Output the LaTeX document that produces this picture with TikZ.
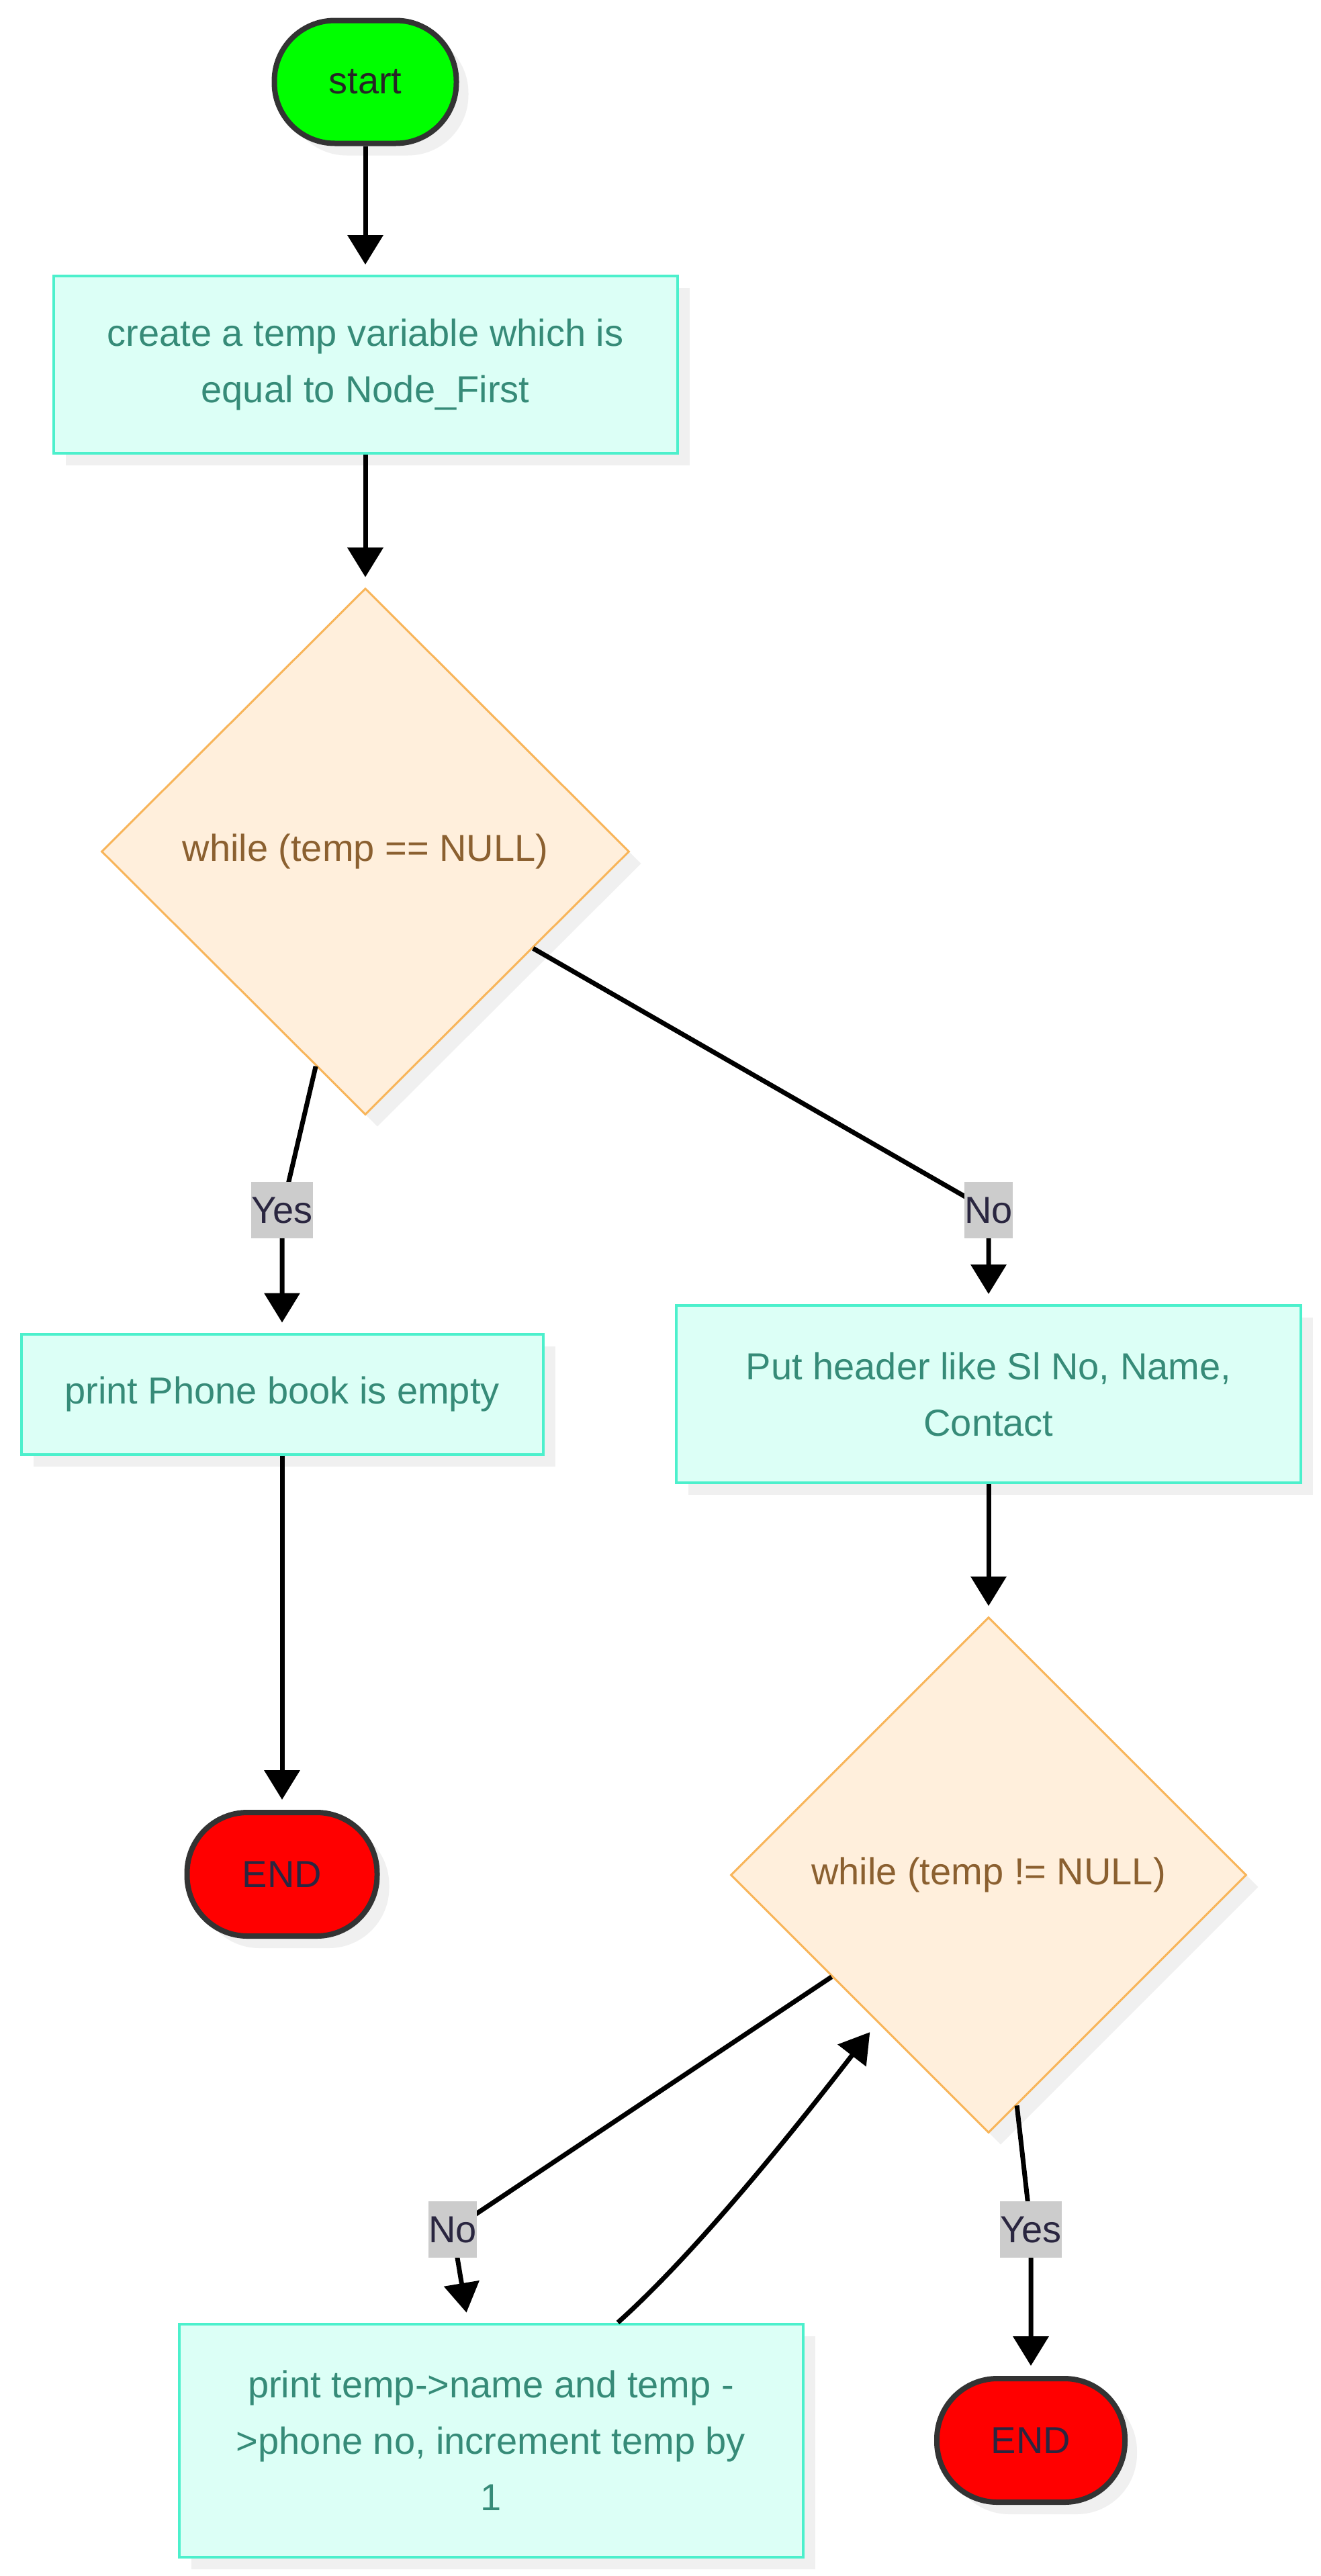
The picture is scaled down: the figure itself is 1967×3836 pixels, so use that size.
\documentclass[tikz,border=0pt]{standalone}
\usepackage{fontspec}
\setmainfont{Liberation Sans}
\usetikzlibrary{shapes.geometric, arrows.meta, shadows, calc}
\definecolor{boxfill}{HTML}{DCFFF6}
\definecolor{boxline}{HTML}{4CF0CC}
\definecolor{boxtext}{HTML}{368B78}
\definecolor{diafill}{HTML}{FFEFDC}
\definecolor{dialine}{HTML}{F8B55A}
\definecolor{diatext}{HTML}{8B6030}
\definecolor{lblbg}{HTML}{CCCCCC}
\definecolor{lbltext}{HTML}{2A2640}
\definecolor{termline}{HTML}{333333}
\definecolor{startfill}{HTML}{00FF00}
\definecolor{endfill}{HTML}{FF0000}
\definecolor{shadowgray}{HTML}{F0F0F0}
\newcommand{\mainfs}{\fontsize{56}{84}\selectfont}
\newcommand{\lblfs}{\fontsize{56}{66}\selectfont}
\tikzset{
  myshadow/.style={drop shadow={shadow xshift=18pt, shadow yshift=-18pt, fill=shadowgray, opacity=1}},
  procbox/.style={rectangle, draw=boxline, fill=boxfill, line width=4pt, text=boxtext,
    align=center, font=\mainfs, inner sep=0pt, myshadow},
  decision/.style={diamond, aspect=1, draw=dialine, fill=diafill, line width=3pt,
    text=diatext, font=\mainfs, inner sep=0pt, myshadow},
  terminal/.style={rectangle, rounded corners=90pt, draw=termline, line width=8pt,
    font=\mainfs, text=lbltext, minimum height=184pt, inner sep=0pt, myshadow},
  lbl/.style={fill=lblbg, text=lbltext, font=\lblfs, inner xsep=0pt, inner ysep=0pt,
    minimum height=84pt},
  edge/.style={draw=black, line width=7pt, -{Triangle[length=44pt,width=52pt]},
    shorten >=15pt},
}
\begin{document}
\begin{tikzpicture}[x=1pt,y=-1pt]
\useasboundingbox[fill=white] (0,0) rectangle (1967,3836);

% nodes
\node[terminal, fill=startfill, minimum width=271pt, minimum height=183pt, text=black!85] (start) at (544,122) {start};
\node[procbox, minimum width=929pt, minimum height=264pt] (b1) at (544,543)
  {create a temp variable which is\\equal to Node\_First};
\node[decision, minimum width=786pt, minimum height=784pt] (d1) at (544,1268) {while (temp == NULL)};
\node[procbox, minimum width=777pt, minimum height=179pt] (b2) at (420,2076) {print Phone book is empty};
\node[procbox, minimum width=930pt, minimum height=264pt] (b3) at (1472,2076)
  {Put header like Sl No, Name,\\Contact};
\node[terminal, fill=endfill, minimum width=283pt] (end1) at (420,2791) {END};
\node[decision, minimum width=768pt, minimum height=768pt] (d2) at (1472,2792) {while (temp != NULL)};
\node[procbox, minimum width=929pt, minimum height=347pt] (b4) at (731,3634)
  {print temp->name and temp -\\>phone no, increment temp by\\1};
\node[terminal, fill=endfill, minimum width=280pt] (end2) at (1535,3634) {END};

% label positions
\coordinate (yes1) at (420,1802);
\coordinate (no1) at (1472,1802);
\coordinate (no2) at (674,3320);
\coordinate (yes2) at (1535,3320);
\coordinate (b4in) at ([xshift=-34pt]b4.north);
\coordinate (b4out) at ([xshift=189pt]b4.north);

% edges
\draw[edge] (start) -- (b1);
\draw[edge] (b1) -- (d1);
\draw[edge] (d1.257) -- (yes1) -- (b2);
\draw[edge] (d1.-30) -- (no1) -- (b3);
\draw[edge] (b2) -- (end1);
\draw[edge] (b3) -- (d2);
\draw[edge] (d2.213) -- (no2) -- (b4in);
\draw[edge] (d2.-83) -- (yes2) -- (end2);
\draw[edge, shorten >=18pt] (b4out) .. controls (1010,3378) and (1130,3240) .. (d2.233);

% labels
\node[lbl] (lyes1) at (yes1) {Yes};
\node[lbl] (lno1) at (no1) {No};
\node[lbl] (lno2) at (no2) {No};
\node[lbl] (lyes2) at (yes2) {Yes};
\end{tikzpicture}
\end{document}
